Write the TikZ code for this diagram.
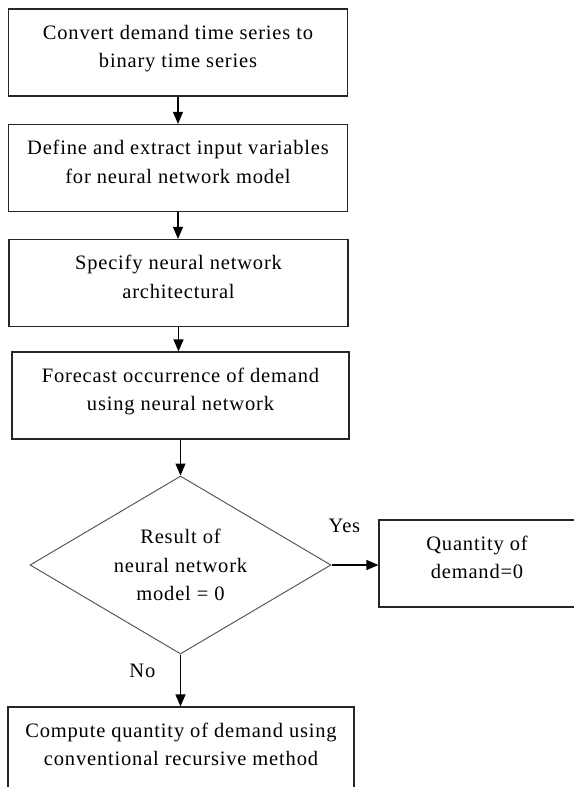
\documentclass[tikz,border=0pt]{standalone}
\usepackage{fontspec}
\setmainfont[LetterSpace=4]{Liberation Serif}
\usetikzlibrary{arrows.meta,shapes.geometric}
\begin{document}
\begin{tikzpicture}[x=1pt, y=-1pt,
                box/.style={draw=black!85, line width=1.2pt, inner sep=0pt,
                    minimum width=339pt, minimum height=87pt, align=center,
                    text depth=12pt},
                test/.style={draw=black!65, line width=1pt, shape=diamond,
                    aspect=1.69, inner sep=0pt, minimum width=301pt,
                    minimum height=178pt, align=center},
                flow/.style={-{Triangle[width=10pt, length=12pt]}, line width=1.2pt},
                font=\fontsize{20.5pt}{28.5pt}\selectfont]
                \useasboundingbox (0, 0) rectangle (573, 787);
                \node [box] (convert) at (178, 52.5) {Convert demand time series to\\binary time series};
                \node [box] (define) at (178, 168) {Define and extract input variables\\for neural network model};
                \node [box] (specify) at (178.5, 283) {Specify neural network\\architectural};
                \node [box, minimum width=337pt] (forecast) at (180.5, 395.5) {Forecast occurrence of demand\\using neural network};
                \node [test] (result) at (180.5, 565) {Result of\\neural network\\model = 0};
                \node [box, minimum width=196pt] (zero) at (477, 563.5) {Quantity of\\demand=0};
                \node [box, minimum width=346pt] (compute) at (181, 750.5) {Compute quantity of demand using\\conventional recursive method};
                \draw [flow] (convert.south) -- (convert.south |- define.north);
                \draw [flow] (define.south) -- (define.south |- specify.north);
                \draw [flow] (specify.south) -- (specify.south |- forecast.north);
                \draw [flow] (forecast.south) -- (forecast.south |- result.north);
                \draw [flow] (result.east) -- (result.east -| zero.west);
                \draw [flow] (result.south) -- (result.south |- compute.north);
                \node [anchor=south west, inner sep=0pt] (yes) at ([xshift=-3pt, yshift=32pt]result.east) {Yes};
                \node [anchor=south east, inner sep=0pt] (no) at ([xshift=-25pt, yshift=-23pt]result.south) {No};
            \end{tikzpicture}
\end{document}
